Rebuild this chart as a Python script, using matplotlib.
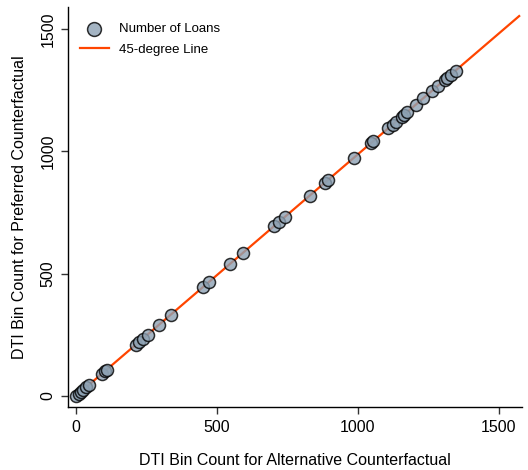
import matplotlib
matplotlib.use("Agg")
import matplotlib.pyplot as plt

plt.rcParams['font.family'] = ['Liberation Sans', 'DejaVu Sans']

alt_counts = [0, 10, 18, 26, 35, 47, 92, 104, 109, 213, 225, 237, 254, 293, 336,
              452, 471, 546, 593, 702, 719, 742, 830, 883, 895, 987, 1048, 1055,
              1108, 1123, 1135, 1155, 1164, 1175, 1206, 1232, 1262, 1285, 1309,
              1317, 1329, 1348]
pref_counts = [0, 10, 18, 26, 35, 46, 91, 103, 108, 210, 222, 234, 251, 289, 332,
               446, 465, 539, 585, 693, 710, 732, 819, 872, 883, 974, 1035, 1041,
               1094, 1108, 1120, 1140, 1149, 1160, 1190, 1216, 1246, 1268, 1292,
               1300, 1312, 1330]
line_x = [0, 1572]
line_y = [0, 1553]
ticks = [0, 500, 1000, 1500]

fig = plt.figure(figsize=(5.28, 4.70), dpi=100)
ax = fig.add_axes([68/528, (470-407)/470, (522-68)/528, 400/470])

ax.scatter(alt_counts, pref_counts, s=75, facecolor='#8da2b4', edgecolor='black',
           linewidth=1.1, alpha=0.8, zorder=3, label='Number of Loans')
ax.plot(line_x, line_y, color='#ff4500', linewidth=1.6, zorder=2,
        label='45-degree Line')

ax.set_xlim(-28, 1582)
ax.set_ylim(-45, 1590)
ax.set_xticks(ticks)
ax.set_yticks(ticks)
ax.set_xticklabels([str(t) for t in ticks], fontsize=11.5)
ax.set_yticklabels([str(t) for t in ticks], fontsize=11.5, rotation=90, va='center')
ax.tick_params(direction='out', length=5, width=1, color='#333333', pad=4)
for s in ['top', 'right']:
    ax.spines[s].set_visible(False)
for s in ['left', 'bottom']:
    ax.spines[s].set_linewidth(1.0)

ax.set_xlabel('DTI Bin Count for Alternative Counterfactual', fontsize=11.5, labelpad=13)
ax.set_ylabel('DTI Bin Count for Preferred Counterfactual', fontsize=11.5, labelpad=10)

leg = ax.legend(loc='upper left', frameon=False, fontsize=9.5, bbox_to_anchor=(0.0, 0.99),
                handlelength=2.2, borderaxespad=0.5, labelspacing=0.65, markerscale=1.15)

fig.savefig('out.png', dpi=100)
